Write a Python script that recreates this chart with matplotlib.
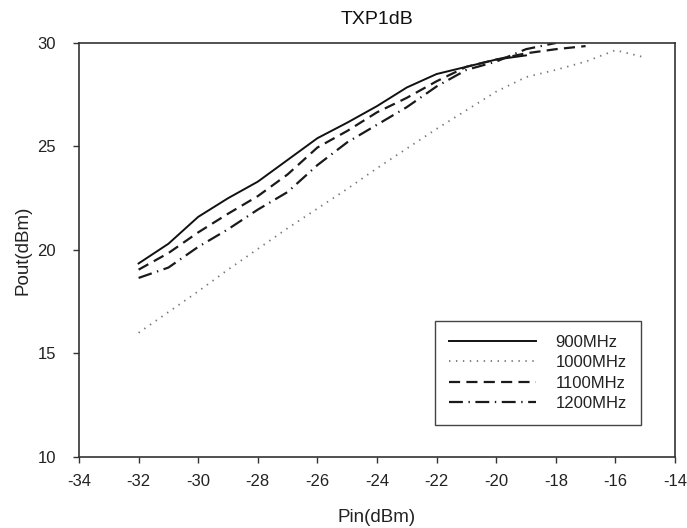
import matplotlib
matplotlib.use("Agg")
import matplotlib.pyplot as plt

# Input power sweep (dBm) and measured output power (dBm) per carrier frequency
pin_900 = [-32, -31, -30, -29, -28, -27, -26, -25, -24, -23, -22, -21, -20, -19]
pout_900 = [19.35, 20.3, 21.6, 22.5, 23.3, 24.35, 25.4, 26.15, 26.95, 27.85, 28.5, 28.85, 29.2, 29.4]

pin_1000 = [-32, -31, -30, -29, -28, -27, -26, -25, -24, -23, -22, -21, -20, -19, -18, -17, -16, -15]
pout_1000 = [16.0, 17.0, 18.0, 19.05, 20.05, 21.05, 22.0, 22.95, 23.95, 24.9, 25.85, 26.75, 27.65,
             28.35, 28.7, 29.1, 29.65, 29.3]

pin_1100 = [-32, -31, -30, -29, -28, -27, -26, -25, -24, -23, -22, -21, -20, -19, -18, -17]
pout_1100 = [19.05, 19.85, 20.85, 21.75, 22.6, 23.65, 24.95, 25.75, 26.65, 27.35, 28.15, 28.85,
             29.2, 29.5, 29.7, 29.85]

pin_1200 = [-32, -31, -30, -29, -28, -27, -26, -25, -24, -23, -22, -21, -20, -19, -18]
pout_1200 = [18.65, 19.15, 20.15, 21.0, 21.95, 22.8, 24.1, 25.2, 26.05, 26.9, 27.9, 28.7, 29.1, 29.7, 30.0]

series_labels = ["900MHz", "1000MHz", "1100MHz", "1200MHz"]
x_ticks = [-34, -32, -30, -28, -26, -24, -22, -20, -18, -16, -14]
y_ticks = [10, 15, 20, 25, 30]

plt.rcParams["font.family"] = ["Liberation Sans", "DejaVu Sans"]
plt.rcParams["lines.scale_dashes"] = False

fig = plt.figure(figsize=(6.87, 5.28), dpi=100)
ax = fig.add_axes([0.115, 0.1345, 0.8675, 0.7841])

ax.plot(pin_900, pout_900, color="#111111", lw=1.4, ls="-", label=series_labels[0])
ax.plot(pin_1000, pout_1000, color="#777777", lw=1.3, ls=(0, (1.0, 4.0)), label=series_labels[1])
ax.plot(pin_1100, pout_1100, color="#1a1a1a", lw=1.6, ls=(0, (8, 4.5)), label=series_labels[2])
ax.plot(pin_1200, pout_1200, color="#1a1a1a", lw=1.6, ls=(0, (10, 4, 1, 4)), label=series_labels[3])

ax.set_xlim(-34, -14)
ax.set_ylim(10, 30)
ax.set_xticks(x_ticks)
ax.set_yticks(y_ticks)
ax.set_xticklabels([str(t) for t in x_ticks])

for s in ax.spines.values():
    s.set_color("#333333")
    s.set_linewidth(1.2)

ax.tick_params(direction="out", length=4.5, width=1.0, color="#333333",
               labelsize=12, labelcolor="#222222")
ax.tick_params(axis="y", pad=12)
ax.tick_params(axis="x", pad=8)

ax.set_xlabel("Pin(dBm)", fontsize=13.5, color="#222222", labelpad=14)
ax.set_ylabel("Pout(dBm)", fontsize=13.5, color="#222222", labelpad=4)
ax.set_title("TXP1dB", fontsize=14, color="#111111", pad=14)

leg = ax.legend(loc="lower right", bbox_to_anchor=(0.943, 0.077), fontsize=12,
                handlelength=5.2, handletextpad=1.2, labelspacing=0.32,
                borderpad=0.85, frameon=True, fancybox=False, framealpha=1,
                borderaxespad=0)
leg.get_frame().set_edgecolor("#444444")
leg.get_frame().set_linewidth(1.0)
for t in leg.get_texts():
    t.set_color("#222222")

fig.savefig("out.png", dpi=100)
